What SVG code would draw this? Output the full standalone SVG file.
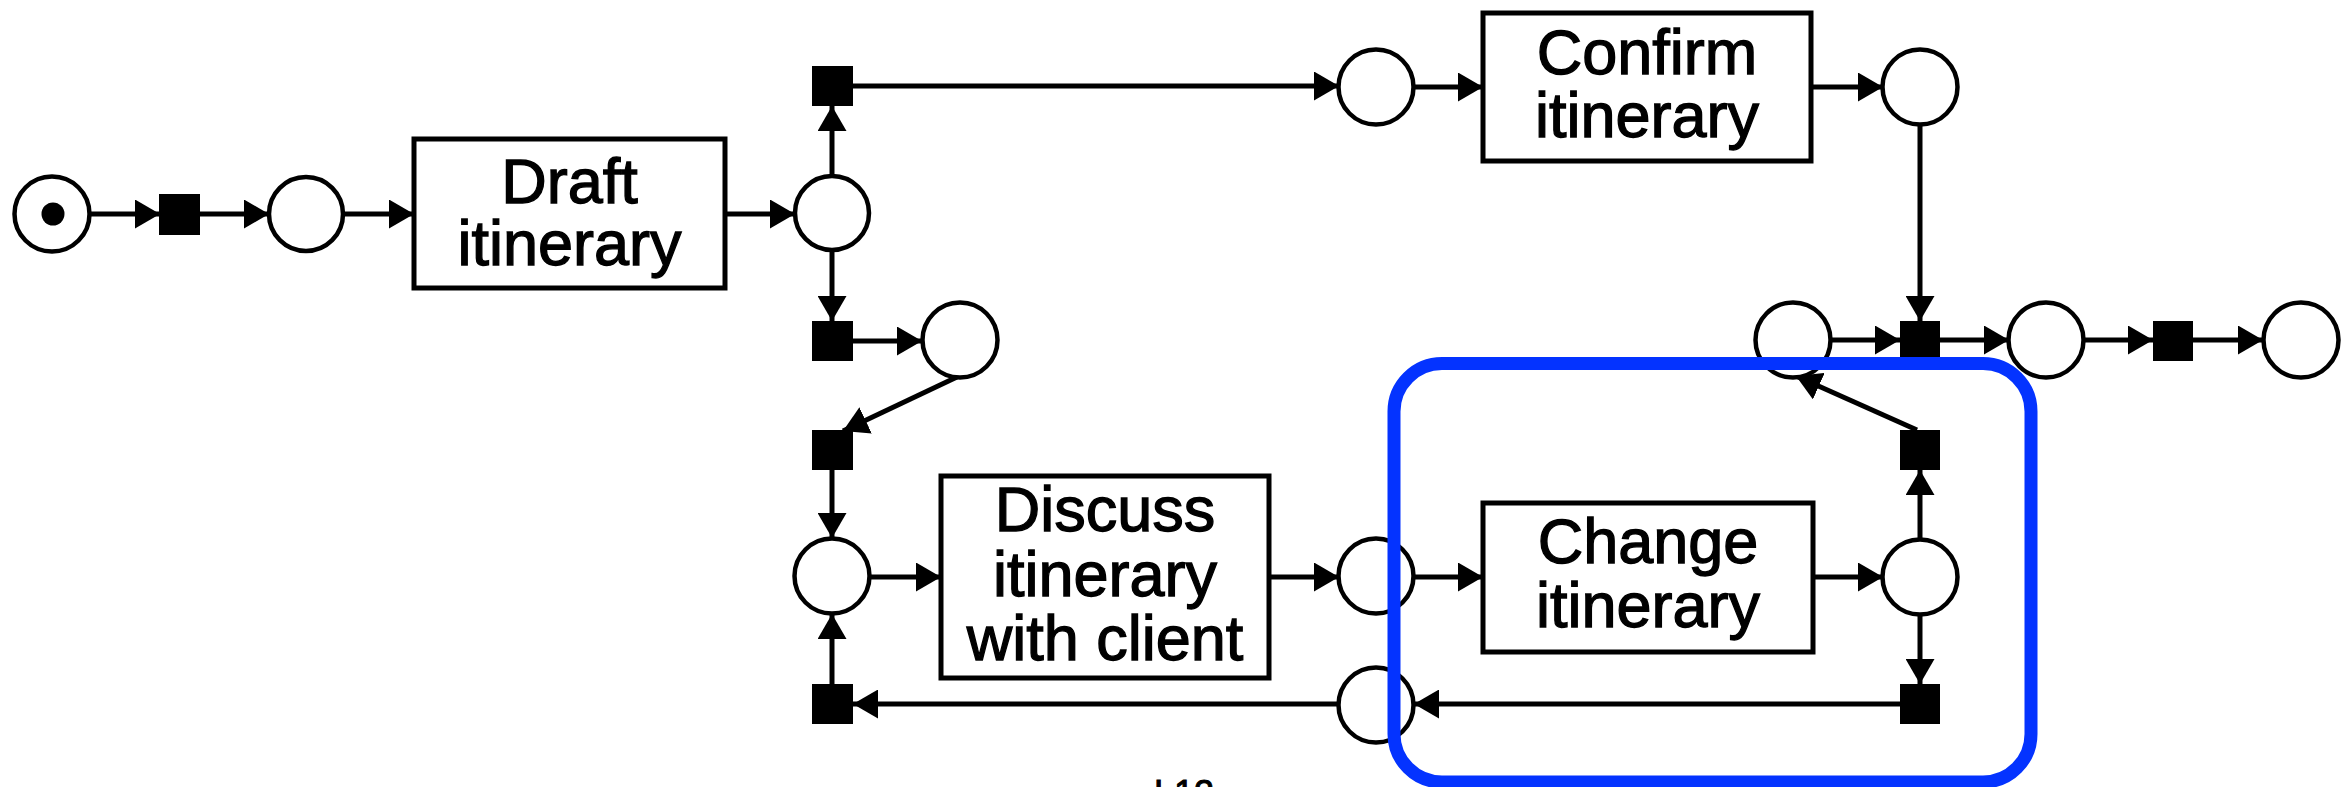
<svg xmlns="http://www.w3.org/2000/svg" width="2345" height="787" viewBox="0 0 2345 787">
<style>
.pl{fill:#fff;stroke:#000;stroke-width:4.5}
.tr{fill:#000}
.bx{fill:#fff;stroke:#000;stroke-width:5}
.lb{font-family:"Liberation Sans",Arial,sans-serif;font-size:63px;fill:#000;stroke:#000;stroke-width:1.3;text-anchor:middle}
.ln{stroke:#000;stroke-width:5;fill:none;marker-end:url(#ah)}
.hl{fill:none;stroke:#0433ff;stroke-width:13}
</style>
<defs>
<marker id="ah" markerUnits="userSpaceOnUse" markerWidth="26" markerHeight="29" refX="25" refY="14.5" orient="auto">
<path d="M0,0 L25,14.5 L0,29 z" fill="#000"/>
</marker>
</defs>
<rect width="2345" height="787" fill="#fff"/>
<g id="connectors">
<line class="ln" x1="90" y1="214" x2="160" y2="214"/>
<line class="ln" x1="200" y1="214" x2="269" y2="214"/>
<line class="ln" x1="343" y1="214" x2="414" y2="214"/>
<line class="ln" x1="725" y1="214" x2="795" y2="214"/>
<line class="ln" x1="832" y1="176" x2="832" y2="106"/>
<line class="ln" x1="832" y1="251" x2="832" y2="321"/>
<line class="ln" x1="853" y1="86" x2="1339" y2="86"/>
<line class="ln" x1="1414" y1="87" x2="1483" y2="87"/>
<line class="ln" x1="1811" y1="87" x2="1883" y2="87"/>
<line class="ln" x1="1920" y1="125" x2="1920" y2="321"/>
<line class="ln" x1="853" y1="341" x2="922" y2="341"/>
<line class="ln" x1="957" y1="377" x2="843" y2="431"/>
<line class="ln" x1="832" y1="470" x2="832" y2="538"/>
<line class="ln" x1="832" y1="684" x2="832" y2="614"/>
<line class="ln" x1="869" y1="577" x2="941" y2="577"/>
<line class="ln" x1="1269" y1="577" x2="1339" y2="577"/>
<line class="ln" x1="1413" y1="577" x2="1483" y2="577"/>
<line class="ln" x1="1813" y1="577" x2="1883" y2="577"/>
<line class="ln" x1="1920" y1="539" x2="1920" y2="470"/>
<line class="ln" x1="1920" y1="615" x2="1920" y2="684"/>
<line class="ln" x1="1900" y1="704" x2="1414" y2="704"/>
<line class="ln" x1="1338" y1="704" x2="853" y2="704"/>
<line class="ln" x1="1917" y1="430" x2="1796" y2="376"/>
<line class="ln" x1="1831" y1="340" x2="1900" y2="340"/>
<line class="ln" x1="1940" y1="340" x2="2009" y2="340"/>
<line class="ln" x1="2084" y1="340" x2="2153" y2="340"/>
<line class="ln" x1="2193" y1="340" x2="2263" y2="340"/>
</g>
<g id="p_start"><circle class="pl" cx="52" cy="214" r="37.5"/><circle cx="53" cy="214" r="11.5" fill="#000"/></g>
<g id="t_start"><rect class="tr" x="159" y="194" width="41" height="41"/></g>
<g id="p_ready"><circle class="pl" cx="306" cy="214" r="37"/></g>
<g id="draft"><rect class="bx" x="414" y="139" width="311" height="149"/><text class="lb" x="569.5" y="203">Draft</text><text class="lb" x="569.5" y="265">itinerary</text></g>
<g id="p_drafted"><circle class="pl" cx="832" cy="213" r="37"/></g>
<g id="t_up"><rect class="tr" x="812" y="66" width="41" height="40"/></g>
<g id="t_down"><rect class="tr" x="812" y="321" width="41" height="40"/></g>
<g id="p_top"><circle class="pl" cx="1376" cy="87" r="37.5"/></g>
<g id="confirm"><rect class="bx" x="1483" y="13" width="328" height="148"/><text class="lb" x="1647" y="74">Confirm</text><text class="lb" x="1647" y="137">itinerary</text></g>
<g id="p_confirmed"><circle class="pl" cx="1920" cy="87" r="37.5"/></g>
<g id="p_split"><circle class="pl" cx="960" cy="340" r="37.5"/></g>
<g id="t3"><rect class="tr" x="812" y="430" width="41" height="40"/></g>
<g id="p_discuss"><circle class="pl" cx="832" cy="576" r="37.5"/></g>
<g id="t4"><rect class="tr" x="812" y="684" width="41" height="40"/></g>
<g id="discuss"><rect class="bx" x="941" y="476" width="328" height="202"/><text class="lb" x="1105" y="531">Discuss</text><text class="lb" x="1105" y="596">itinerary</text><text class="lb" x="1105" y="660">with client</text></g>
<g id="p_discussed"><circle class="pl" cx="1376" cy="576" r="37.5"/></g>
<g id="p_back"><circle class="pl" cx="1376" cy="705" r="37.5"/></g>
<g id="change"><rect class="bx" x="1483" y="503" width="330" height="149"/><text class="lb" x="1648" y="563">Change</text><text class="lb" x="1648" y="627">itinerary</text></g>
<g id="p_changed"><circle class="pl" cx="1920" cy="577" r="37.5"/></g>
<g id="t5"><rect class="tr" x="1900" y="430" width="40" height="40"/></g>
<g id="t6"><rect class="tr" x="1900" y="684" width="40" height="40"/></g>
<g id="p_join"><circle class="pl" cx="1793" cy="340" r="37.5"/></g>
<g id="t_join"><rect class="tr" x="1900" y="321" width="40" height="40"/></g>
<g id="p_end1"><circle class="pl" cx="2046" cy="340" r="37.5"/></g>
<g id="t_end"><rect class="tr" x="2153" y="321" width="40" height="40"/></g>
<g id="p_final"><circle class="pl" cx="2301" cy="340" r="37.5"/></g>
<g id="highlight"><rect class="hl" x="1394" y="363.5" width="637" height="418.5" rx="48" ry="48"/></g>
<text x="1184" y="806" style="font-family:'Liberation Sans',Arial,sans-serif;font-size:36px;text-anchor:middle;stroke:#000;stroke-width:1">L12</text>
</svg>
